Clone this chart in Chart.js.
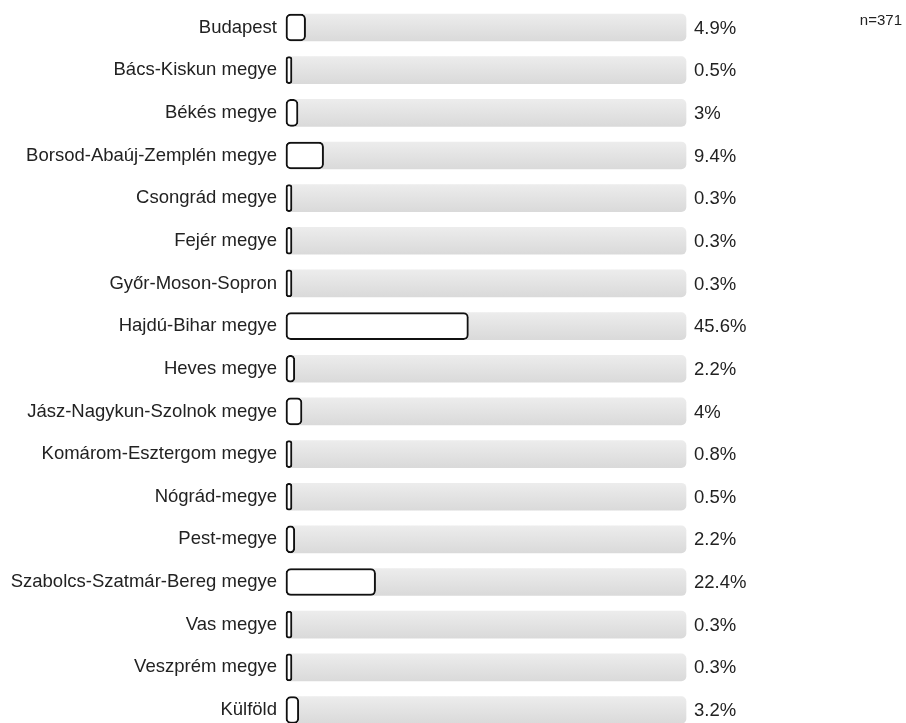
<!DOCTYPE html>
<html>
<head>
<meta charset="utf-8">
<script src="https://cdn.jsdelivr.net/npm/chart.js@4"></script>
<style>
    html, body { margin: 0; padding: 0; background: #fff; }
    #wrap { width: 906px; height: 723px; position: relative; }
</style>
</head>
<body>
<div id="wrap"><canvas id="megyeChart"></canvas></div>
<script>
// Adatok
const categories = [
    'Budapest', 'Bács-Kiskun megye', 'Békés megye', 'Borsod-Abaúj-Zemplén megye',
    'Csongrád megye', 'Fejér megye', 'Győr-Moson-Sopron', 'Hajdú-Bihar megye',
    'Heves megye', 'Jász-Nagykun-Szolnok megye', 'Komárom-Esztergom megye',
    'Nógrád-megye', 'Pest-megye', 'Szabolcs-Szatmár-Bereg megye', 'Vas megye',
    'Veszprém megye', 'Külföld'
];
const values = [4.9, 0.5, 3, 9.4, 0.3, 0.3, 0.3, 45.6, 2.2, 4, 0.8, 0.5, 2.2, 22.4, 0.3, 0.3, 3.2];
const trackMax = 100;
const sampleLabel = 'n=371';

const FONT = '"Liberation Sans", Arial, sans-serif';

// Szürke sáv színátmenettel
function trackColor(context) {
    const chart = context.chart;
    const yScale = chart.scales.y;
    const y = yScale ? yScale.getPixelForValue(context.dataIndex) : NaN;
    if (!isFinite(y)) return '#e2e2e2';
    const g = chart.ctx.createLinearGradient(0, y - 13, 0, y + 13);
    g.addColorStop(0, '#ececec');
    g.addColorStop(1, '#dadada');
    return g;
}

// Százalékok és n= felirat
const labelsPlugin = {
    id: 'valueLabels',
    afterDatasetsDraw(chart) {
        const ctx = chart.ctx;
        const meta = chart.getDatasetMeta(0);
        ctx.save();
        ctx.font = '18.5px ' + FONT;
        ctx.fillStyle = '#222';
        ctx.textAlign = 'left';
        ctx.textBaseline = 'middle';
        meta.data.forEach((bar, i) => {
            ctx.fillText(values[i] + '%', chart.chartArea.right + 8, bar.y + 1);
        });
        ctx.font = '15px ' + FONT;
        ctx.textAlign = 'right';
        ctx.fillText(sampleLabel, 902, 21);
        ctx.restore();
    }
};

new Chart(document.getElementById('megyeChart'), {
    type: 'bar',
    data: {
        labels: categories,
        datasets: [
            {
                data: values,
                backgroundColor: '#fff',
                borderColor: '#111',
                borderWidth: 2,
                borderRadius: 5,
                borderSkipped: false,
                barThickness: 27,
                minBarLength: 6,
                grouped: false,
                clip: false,
                order: 1
            },
            {
                data: categories.map(() => trackMax),
                backgroundColor: trackColor,
                borderWidth: 0,
                borderRadius: 5,
                borderSkipped: false,
                barThickness: 27,
                grouped: false,
                clip: false,
                order: 2
            }
        ]
    },
    options: {
        indexAxis: 'y',
        responsive: true,
        maintainAspectRatio: false,
        animation: false,
        layout: { padding: { top: 27.5, bottom: 13, left: 0, right: 220 } },
        plugins: {
            legend: { display: false },
            tooltip: { enabled: false }
        },
        scales: {
            x: { display: false, min: 0, max: trackMax },
            y: {
                offset: false,
                grid: { display: false, drawTicks: false },
                border: { display: false },
                ticks: {
                    padding: 9,
                    color: '#222',
                    font: { size: 18.5, family: FONT }
                },
                afterFit(scale) {
                    scale.width = 286;
                    scale.paddingTop = 0;
                    scale.paddingBottom = 0;
                }
            }
        }
    },
    plugins: [labelsPlugin]
});
</script>
</body>
</html>
